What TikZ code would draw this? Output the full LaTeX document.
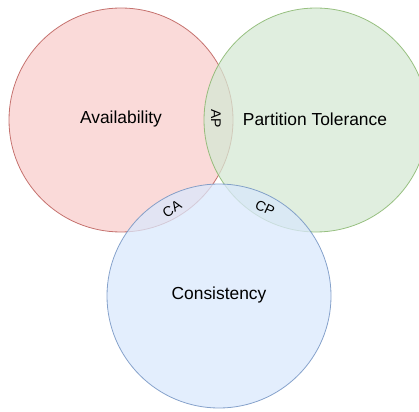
\documentclass[tikz,border=0pt]{standalone}
\usepackage{fontspec}
\setmainfont{Liberation Sans}
\begin{document}
\begin{tikzpicture}[x=1pt,y=-1pt,
  setc/.style={circle, minimum size=224pt, inner sep=0pt, line width=0.8pt, fill opacity=0.75, draw opacity=0.8},
  big/.style={font=\fontsize{17.4}{20}\selectfont, text=black},
  small/.style={font=\fontsize{14}{16}\selectfont, text=black, inner sep=1pt}]
\useasboundingbox (0,0) rectangle (419,411);
\begin{scope}
\clip (0,0) rectangle (419,411);
\node[setc, draw={rgb,255:red,184;green,84;blue,80}, fill={rgb,255:red,248;green,206;blue,204}] (A) at (121,120) {};
\node[setc, draw={rgb,255:red,130;green,179;blue,102}, fill={rgb,255:red,213;green,232;blue,212}] (P) at (316,120) {};
\node[setc, draw={rgb,255:red,108;green,142;blue,191}, fill={rgb,255:red,218;green,232;blue,252}] (C) at (219,296) {};
\end{scope}
\node[big] (tA) at (121,119) {Availability};
\node[big] (tP) at (315,119) {Partition Tolerance};
\node[big] (tC) at (219,295) {Consistency};
\node[small, rotate=-90] (ap) at (216,119) {AP};
\node[small, rotate=32] (ca) at (172,209) {CA};
\node[small, rotate=-25] (cp) at (265,208) {CP};
\end{tikzpicture}
\end{document}
